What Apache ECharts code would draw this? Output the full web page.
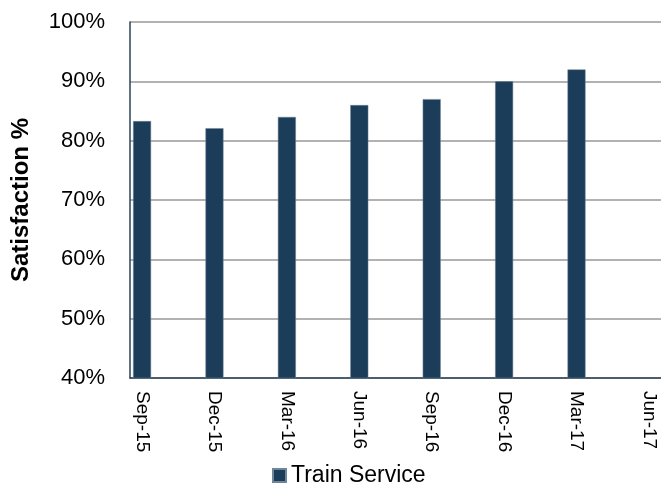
<!DOCTYPE html>
<html>
<head>
<meta charset="utf-8">
<script src="https://cdn.jsdelivr.net/npm/echarts@6/dist/echarts.min.js"></script>
<style>
html,body{margin:0;padding:0;background:#fff;}
#chart{width:661px;height:484px;}
</style>
</head>
<body>
<div id="chart"></div>
<script>
// Monthly date axis (Excel date axis, base unit = month)
var months = ['Sep-15','Oct-15','Nov-15','Dec-15','Jan-16','Feb-16','Mar-16','Apr-16','May-16','Jun-16','Jul-16','Aug-16','Sep-16','Oct-16','Nov-16','Dec-16','Jan-17','Feb-17','Mar-17','Apr-17','May-17','Jun-17'];
// Survey waves and their values
var quarters = ['Sep-15','Dec-15','Mar-16','Jun-16','Sep-16','Dec-16','Mar-17','Jun-17'];
var trainService = [83.3, 82.1, 84.0, 86.0, 87.0, 90.0, 92.0, null];
var yTicks = [40, 50, 60, 70, 80, 90, 100];

var seriesData = months.map(function(m){
  var i = quarters.indexOf(m);
  return i >= 0 ? trainService[i] : null;
});

var FONT = '"Liberation Sans", Arial, sans-serif';
var chart = echarts.init(document.getElementById('chart'), null, {renderer:'canvas'});
chart.setOption({
  animation: false,
  textStyle: {fontFamily: FONT},
  grid: {left: 130, top: 22, width: 535, bottom: 106, containLabel: false},
  legend: {
    data: ['Train Service'],
    left: 272, top: 464, padding: 0,
    itemWidth: 13, itemHeight: 13, itemGap: 5,
    icon: 'rect',
    textStyle: {fontFamily: FONT, fontSize: 23, color: '#000'}
  },
  xAxis: {
    type: 'category',
    data: months,
    boundaryGap: true,
    axisLine: {show: true, lineStyle: {color: '#2b4257', width: 1.5}},
    axisTick: {show: false},
    axisLabel: {
      interval: function(idx, val){ return quarters.indexOf(val) >= 0; },
      rotate: -90, margin: 13, fontSize: 19, color: '#000', fontFamily: FONT
    },
    splitLine: {show: false}
  },
  yAxis: {
    type: 'value',
    min: yTicks[0], max: yTicks[yTicks.length-1], interval: 10,
    name: 'Satisfaction %',
    nameLocation: 'middle',
    nameGap: 97,
    nameRotate: 90,
    nameTextStyle: {fontFamily: FONT, fontSize: 24, fontWeight: 'bold', color: '#000'},
    axisLine: {show: true, lineStyle: {color: '#2b4257', width: 1.5}},
    axisTick: {show: false},
    axisLabel: {formatter: '{value}%', margin: 25, fontSize: 22, color: '#000', fontFamily: FONT},
    splitLine: {show: true, lineStyle: {color: '#999', width: 1.5}}
  },
  series: [{
    name: 'Train Service',
    type: 'bar',
    data: seriesData,
    barWidth: 18,
    itemStyle: {color: '#1c3d5a', borderColor: '#6f8599', borderWidth: 0.5}
  }]
});
</script>
</body>
</html>
